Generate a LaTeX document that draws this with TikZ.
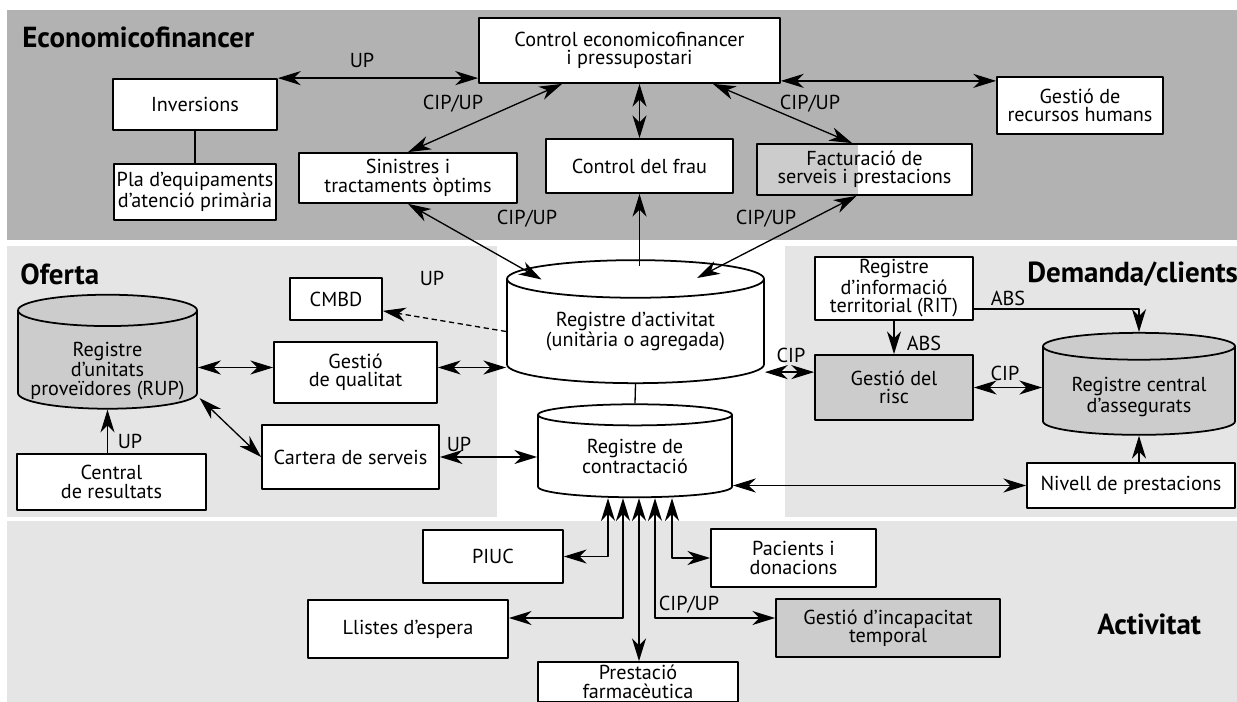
\documentclass[tikz,border=0pt]{standalone}
\usepackage{fontspec}
\setmainfont{PT Sans}
\usetikzlibrary{shapes.geometric,arrows.meta,calc}
\newdimen\px
\px=0.02cm
\tikzset{
  lletra/.style={font=\fontsize{11.5}{10.5}\selectfont},
  caixa/.style={draw, line width=1pt, fill=white, align=center, inner sep=0pt, lletra},
  caixagris/.style={caixa, fill=black!20},
  mida/.style 2 args={minimum width=#1\px, minimum height=#2\px},
  bd/.style={cylinder, shape border rotate=90, draw, line width=1pt, align=center, inner sep=0pt, lletra},
  etiq/.style={lletra, inner sep=0pt, align=center},
  titol/.style={font=\fontsize{16.5}{17}\selectfont\bfseries, inner sep=0pt, anchor=west},
  fletxa/.style={line width=0.75pt, >={Stealth[length=13pt,width=8pt,inset=4pt]}},
}
\begin{document}
\begin{tikzpicture}[x=0.02cm, y=-0.02cm, line join=round]
  \useasboundingbox (0,0) rectangle (1237,702);

  % franges de fons
  \fill[black!30] (7,10) rectangle (1237,240);
  \fill[black!10] (7,246) rectangle (497,517);
  \fill[black!10] (785,246) rectangle (1237,517);
  \fill[black!10] (7,521) rectangle (1237,702);

  % Economicofinancer
  \node[titol] (tEco) at (22,37) {Economicofinancer};
  \node[caixa, mida={301}{65}] (ctrl) at (629.5,50.5) {Control economicofinancer\\i pressupostari};
  \node[caixa, mida={164}{51}] (inv) at (195,104.5) {Inversions};
  \node[caixa, mida={162}{56}] (pla) at (195,192) {Pla d’equipaments\\d’atenció primària};
  \node[caixa, mida={166}{57}] (rh) at (1080,105.5) {Gestió de\\recursos humans};
  \node[caixa, mida={218}{50}] (sin) at (408,178) {Sinistres i\\tractaments òptims};
  \node[caixa, mida={187}{54}] (frau) at (639.5,166) {Control del frau};
  \node[caixa, mida={215}{51}, path picture={
      \fill[black!20] (path picture bounding box.north west) rectangle ($(path picture bounding box.south west)+(101,0)$);
    }] (fact) at (864.5,169.5) {Facturació de\\serveis i prestacions};

  % Oferta
  \node[titol] (tOf) at (20,274) {Oferta};
  \node[caixa, mida={92}{42}] (cmbd) at (336,299) {CMBD};
  \node[bd, fill=black!20, mida={179}{114}, text width=179\px, aspect=0.175] (rup) at (107.5,360) {};
  \node[etiq] (rupT) at ($(rup.center)+(0,11)$) {Registre\\d’unitats\\proveïdores (RUP)};
  \node[caixa, mida={163}{61}] (qual) at (355.5,372.5) {Gestió\\de qualitat};
  \node[caixa, mida={177}{64}] (cart) at (350.5,457) {Cartera de serveis};
  \node[caixa, mida={189}{56}] (cent) at (111.5,482) {Central\\de resultats};

  % registres centrals
  \node[bd, fill=white, mida={257}{123}, aspect=0.21] (act) at (635.5,331.5) {Registre d’activitat\\(unitària o agregada)};
  \node[bd, fill=white, mida={194}{93}, aspect=0.2] (contr) at (635,456.5) {Registre de\\contractació};

  % Demanda/clients
  \node[titol] (tDem) at (1027,274) {Demanda/clients};
  \node[caixa, mida={158}{63}] (rit) at (894,288.5) {Registre\\d’informació\\territorial (RIT)};
  \node[caixagris, mida={158}{65}] (risc) at (894,387.5) {Gestió del\\risc};
  \node[bd, fill=black!20, mida={192}{102}, text width=192\px, aspect=0.14] (cen) at (1139,391) {};
  \node[etiq] (cenT) at ($(cen.center)+(0,6)$) {Registre central\\d’assegurats};
  \node[caixa, mida={208}{45}] (niv) at (1131,485.5) {Nivell de prestacions};

  % Activitat
  \node[titol] (tAct) at (1097,624) {Activitat};
  \node[caixa, mida={140}{53}] (piuc) at (493,556.5) {PIUC};
  \node[caixa, mida={165}{58}] (pac) at (793.5,558) {Pacients i\\donacions};
  \node[caixa, mida={200}{58}] (llis) at (408,629) {Llistes d’espera};
  \node[caixagris, mida={224}{58}] (inc) at (888,628) {Gestió d’incapacitat\\temporal};
  \node[caixa, mida={200}{40}] (farm) at (638,682) {Prestació\\farmacèutica};

  % punts auxiliars
  \coordinate (cR) at ($(ctrl.south east)+(0,-3)$);
  \coordinate (aT) at ($(act.north)+(0,7)$);
  \coordinate (cipL) at ($(risc.north west)+(0,18)$);
  \coordinate (t1) at ($(contr.south)+(-27,0)$);
  \coordinate (t2) at ($(contr.south)+(-12,0)$);
  \coordinate (t3) at ($(contr.south)+(4,0)$);
  \coordinate (t4) at ($(contr.south)+(20,0)$);
  \coordinate (t5) at ($(contr.south)+(37,0)$);

  % connexions
  \begin{scope}[fletxa]
    \draw[<->] (inv.north east) -- (inv.north east -| ctrl.west);
    \draw[<->] (cR) -- (cR -| rh.west);
    \draw (inv.south) -- (pla.north);
    \draw[<->] ($(ctrl.south west)+(84,0)$) -- (sin.north);
    \draw[<->] ($(ctrl.south east)+(-68,0)$) -- ($(fact.north west)+(96,0)$);
    \draw[<->] (frau.north) -- (frau.north |- ctrl.south);
    \draw[<->] (sin.south) -- ($(act.center)+(-94,-52)$);
    \draw[<->] ($(fact.south)+(-8,0)$) -- ($(act.center)+(61.5,-53.5)$);
    \draw[->] (aT -| frau.south) -- (frau.south);
    \draw[->, dash pattern=on 3pt off 2pt] (act.west) -- ($(cmbd.south east)+(0,-10)$);
    \draw[<->] ($(rup.east |- qual.west)+(0,-5)$) -- ($(qual.west)+(0,-5)$);
    \draw[<->] ($(qual.east)+(0,-5)$) -- ($(qual.east -| act.west)+(0,-5)$);
    \draw[<->] ($(rup.center)+(92,38)$) -- (cart.west);
    \draw[->] (cent.north -| rup.south) -- (rup.south);
    \draw[<->] (cart.east) -- (cart.east -| contr.west);
    \draw (act.south) -- (contr.north);
    \draw[<->] (cipL -| act.east) -- (cipL);
    \draw[->] (rit.south) -- (risc.north);
    \draw[->] ($(rit.south east)+(0,-12)$) -| (cen.north);
    \draw[<->] (risc.east) -- (risc.east -| cen.west);
    \draw[->] (niv.north -| cen.south) -- (cen.south);
    \draw[<->] (contr.east |- niv.west) -- (niv.west);
    \draw[<->] (t1) |- (piuc.east);
    \draw[<->] (t2) |- ($(llis.east)+(0,-11)$);
    \draw[<->] (t3) -- (t3 |- farm.north);
    \draw[<->] (t4) |- ($(inc.west)+(0,-10)$);
    \draw[<->] (t5) |- (pac.west);
  \end{scope}

  % etiquetes
  \node[etiq] (lUP1) at (362,60) {UP};
  \node[etiq] (lCU1) at (453,104) {CIP/UP};
  \node[etiq] (lCU2) at (810,104) {CIP/UP};
  \node[etiq] (lCU3) at (527,219) {CIP/UP};
  \node[etiq] (lCU4) at (766,219) {CIP/UP};
  \node[etiq] (lUP2) at (432,278) {UP};
  \node[etiq] (lUP3) at (459,444) {UP};
  \node[etiq] (lUP4) at (130,441) {UP};
  \node[etiq] (lCIP1) at (791,355) {CIP};
  \node[etiq] (lABS1) at (924,343) {ABS};
  \node[etiq] (lABS2) at (1008,298) {ABS};
  \node[etiq] (lCIP2) at (1005,373) {CIP};
  \node[etiq] (lCU5) at (689,605) {CIP/UP};
\end{tikzpicture}
\end{document}
